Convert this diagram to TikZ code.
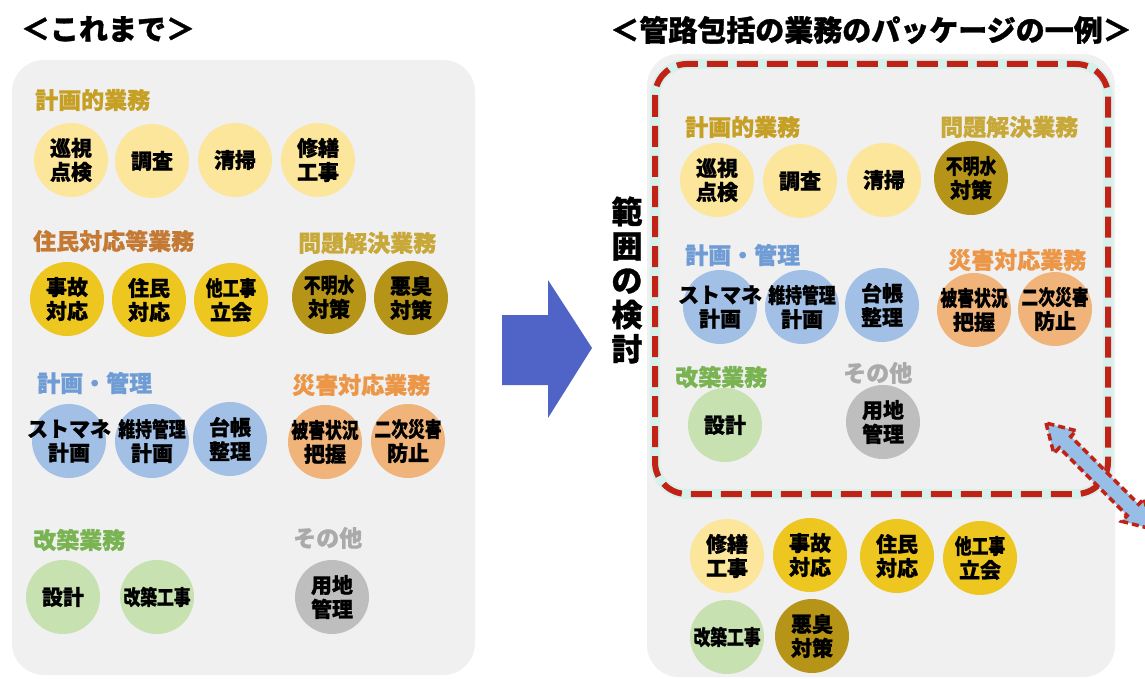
\documentclass[tikz,border=0pt]{standalone}
\usepackage{fontspec}
\usepackage{graphicx}
\setmainfont{Noto Sans CJK JP}[BoldFeatures={FakeBold=1.0}]
\definecolor{panelgray}{RGB}{240,240,240}
\definecolor{cY}{RGB}{252,230,155}
\definecolor{cG}{RGB}{238,198,32}
\definecolor{cO}{RGB}{182,148,24}
\definecolor{cB}{RGB}{162,192,230}
\definecolor{cR}{RGB}{240,180,122}
\definecolor{cGr}{RGB}{200,225,176}
\definecolor{cGy}{RGB}{190,190,190}
\definecolor{lYel}{RGB}{198,160,36}
\definecolor{lYel2}{RGB}{200,168,56}
\definecolor{lBrn}{RGB}{196,122,52}
\definecolor{lBlu}{RGB}{112,156,214}
\definecolor{lOra}{RGB}{236,150,72}
\definecolor{lGrn}{RGB}{122,180,82}
\definecolor{lGry}{RGB}{170,170,170}
\definecolor{dred}{RGB}{194,34,22}
\definecolor{glow}{RGB}{214,240,236}
\definecolor{bigblue}{RGB}{80,100,200}
\definecolor{arrLB}{RGB}{150,190,230}
\newcommand{\sq}[1]{\scalebox{0.8}[1]{#1}}
\begin{document}
\begin{tikzpicture}[x=1pt,y=-1pt,
  circ/.style={circle, minimum size=74pt, inner sep=0pt, draw=none},
  ctext/.style={font=\bfseries\fontsize{21}{24}\selectfont, align=center, inner sep=0pt, text=black},
  lab/.style={font=\bfseries\fontsize{23}{26}\selectfont, anchor=west, inner sep=0pt},
  ttl/.style={font=\bfseries\fontsize{29}{32}\selectfont, inner sep=0pt, text=black},
  panel/.style={fill=panelgray, rounded corners=32pt}]
\useasboundingbox (0,0) rectangle (1145,679);
\clip (0,0) rectangle (1145,679);
\fill[white] (0,0) rectangle (1145,679);

% titles
\node[ttl] (t1) at (108,29) {＜これまで＞};
\node[ttl] (t2) at (871,30) {＜管路包括の業務のパッケージの一例＞};

% panels
\path[panel] (12,60) rectangle (475,675);
\path[panel] (647,54) rectangle (1115,677);

% ---- left panel ----
\node[lab, text=lYel] (la1) at (35,100) {計画的業務};
\node[lab, text=lBrn] (la2) at (33,241) {住民対応等業務};
\node[lab, text=lYel2] (la3) at (298,243) {問題解決業務};
\node[lab, text=lBlu] (la4) at (37,383) {計画・管理};
\node[lab, text=lOra] (la5) at (292,385) {災害対応業務};
\node[lab, text=lGrn] (la6) at (33,540) {改築業務};
\node[lab, text=lGry] (la7) at (293,538) {その他};

\node[circ, fill=cY] (L1a) at (71,160) {};
\node[ctext] (tL1a) at (L1a) {巡視\\点検};
\node[circ, fill=cY] (L1b) at (152,161) {};
\node[ctext] (tL1b) at (L1b) {調査};
\node[circ, fill=cY] (L1c) at (235,160) {};
\node[ctext] (tL1c) at (L1c) {清掃};
\node[circ, fill=cY] (L1d) at (318,160) {};
\node[ctext] (tL1d) at (L1d) {修繕\\工事};

\node[circ, fill=cG] (L2a) at (67,299) {};
\node[ctext] (tL2a) at (L2a) {事故\\対応};
\node[circ, fill=cG] (L2b) at (149,300) {};
\node[ctext] (tL2b) at (L2b) {住民\\対応};
\node[circ, fill=cG] (L2c) at (231,300) {};
\node[ctext] (tL2c) at (L2c) {\sq{他工事}\\立会};
\node[circ, fill=cO] (L2d) at (329,297) {};
\node[ctext] (tL2d) at (L2d) {\sq{不明水}\\対策};
\node[circ, fill=cO] (L2e) at (411,298) {};
\node[ctext] (tL2e) at (L2e) {悪臭\\対策};

\node[circ, fill=cB] (L3a) at (69,441) {};
\node[ctext] (tL3a) at (L3a) {ストマネ\\計画};
\node[circ, fill=cB] (L3b) at (152,441) {};
\node[ctext] (tL3b) at (L3b) {\sq{維持管理}\\計画};
\node[circ, fill=cB] (L3c) at (230,439) {};
\node[ctext] (tL3c) at (L3c) {台帳\\整理};
\node[circ, fill=cR] (L3d) at (325,442) {};
\node[ctext] (tL3d) at (L3d) {\sq{被害状況}\\把握};
\node[circ, fill=cR] (L3e) at (408,441) {};
\node[ctext] (tL3e) at (L3e) {\sq{二次災害}\\防止};

\node[circ, fill=cGr] (L4a) at (63,597) {};
\node[ctext] (tL4a) at (L4a) {設計};
\node[circ, fill=cGr] (L4b) at (157,597) {};
\node[ctext] (tL4b) at (L4b) {\sq{改築工事}};
\node[circ, fill=cGy] (L4c) at (332,597) {};
\node[ctext] (tL4c) at (L4c) {用地\\管理};

% ---- big arrow ----
\fill[bigblue] (502,315) -- (548,315) -- (548,280) -- (592,348) -- (548,418) -- (548,385) -- (502,385) -- cycle;

% vertical text
\node[font=\bfseries\fontsize{31}{34.3}\selectfont, align=center, inner sep=0pt] (vt) at (627,280) {範\\囲\\の\\検\\討};

% ---- right panel ----
\draw[glow, line width=10pt, rounded corners=32pt] (655,64) rectangle (1108,494);
\draw[dred, line width=6pt, dash pattern=on 21pt off 9pt, rounded corners=32pt] (655,64) rectangle (1108,494);

\node[lab, text=lYel] (ra1) at (685,127) {計画的業務};
\node[lab, text=lYel2] (ra2) at (940,127) {問題解決業務};
\node[lab, text=lBlu] (ra3) at (685,255) {計画・管理};
\node[lab, text=lOra] (ra4) at (948,260) {災害対応業務};
\node[lab, text=lGrn] (ra5) at (675,377) {改築業務};
\node[lab, text=lGry] (ra6) at (843,373) {その他};

\node[circ, fill=cY] (R1a) at (717,180) {};
\node[ctext] (tR1a) at (R1a) {巡視\\点検};
\node[circ, fill=cY] (R1b) at (800,181) {};
\node[ctext] (tR1b) at (R1b) {調査};
\node[circ, fill=cY] (R1c) at (884,180) {};
\node[ctext] (tR1c) at (R1c) {清掃};
\node[circ, fill=cO] (R1d) at (971,178) {};
\node[ctext] (tR1d) at (R1d) {\sq{不明水}\\対策};

\node[circ, fill=cB] (R2a) at (720,307) {};
\node[ctext] (tR2a) at (R2a) {ストマネ\\計画};
\node[circ, fill=cB] (R2b) at (802,307) {};
\node[ctext] (tR2b) at (R2b) {\sq{維持管理}\\計画};
\node[circ, fill=cB] (R2c) at (882,305) {};
\node[ctext] (tR2c) at (R2c) {台帳\\整理};
\node[circ, fill=cR] (R2d) at (974,310) {};
\node[ctext] (tR2d) at (R2d) {\sq{被害状況}\\把握};
\node[circ, fill=cR] (R2e) at (1055,309) {};
\node[ctext] (tR2e) at (R2e) {\sq{二次災害}\\防止};

\node[circ, fill=cGr] (R3a) at (725,425) {};
\node[ctext] (tR3a) at (R3a) {設計};
\node[circ, fill=cGy] (R3b) at (883,422) {};
\node[ctext] (tR3b) at (R3b) {用地\\管理};

\node[circ, fill=cY] (R4a) at (727,556) {};
\node[ctext] (tR4a) at (R4a) {修繕\\工事};
\node[circ, fill=cG] (R4b) at (810,555) {};
\node[ctext] (tR4b) at (R4b) {事故\\対応};
\node[circ, fill=cG] (R4c) at (897,556) {};
\node[ctext] (tR4c) at (R4c) {住民\\対応};
\node[circ, fill=cG] (R4d) at (980,558) {};
\node[ctext] (tR4d) at (R4d) {\sq{他工事}\\立会};
\node[circ, fill=cGr] (R5a) at (727,637) {};
\node[ctext] (tR5a) at (R5a) {\sq{改築工事}};
\node[circ, fill=cO] (R5b) at (812,636) {};
\node[ctext] (tR5b) at (R5b) {悪臭\\対策};

% double arrow
\begin{scope}[shift={(1046,423)}, rotate=-45]
\draw[fill=arrLB, draw=dred, line width=3.5pt, dash pattern=on 7pt off 4pt, line join=miter]
  (0,0) -- (27,16) -- (27,8) -- (123,8) -- (123,16) -- (150,0) -- (123,-16) -- (123,-8) -- (27,-8) -- (27,-16) -- cycle;
\end{scope}
\end{tikzpicture}
\end{document}
